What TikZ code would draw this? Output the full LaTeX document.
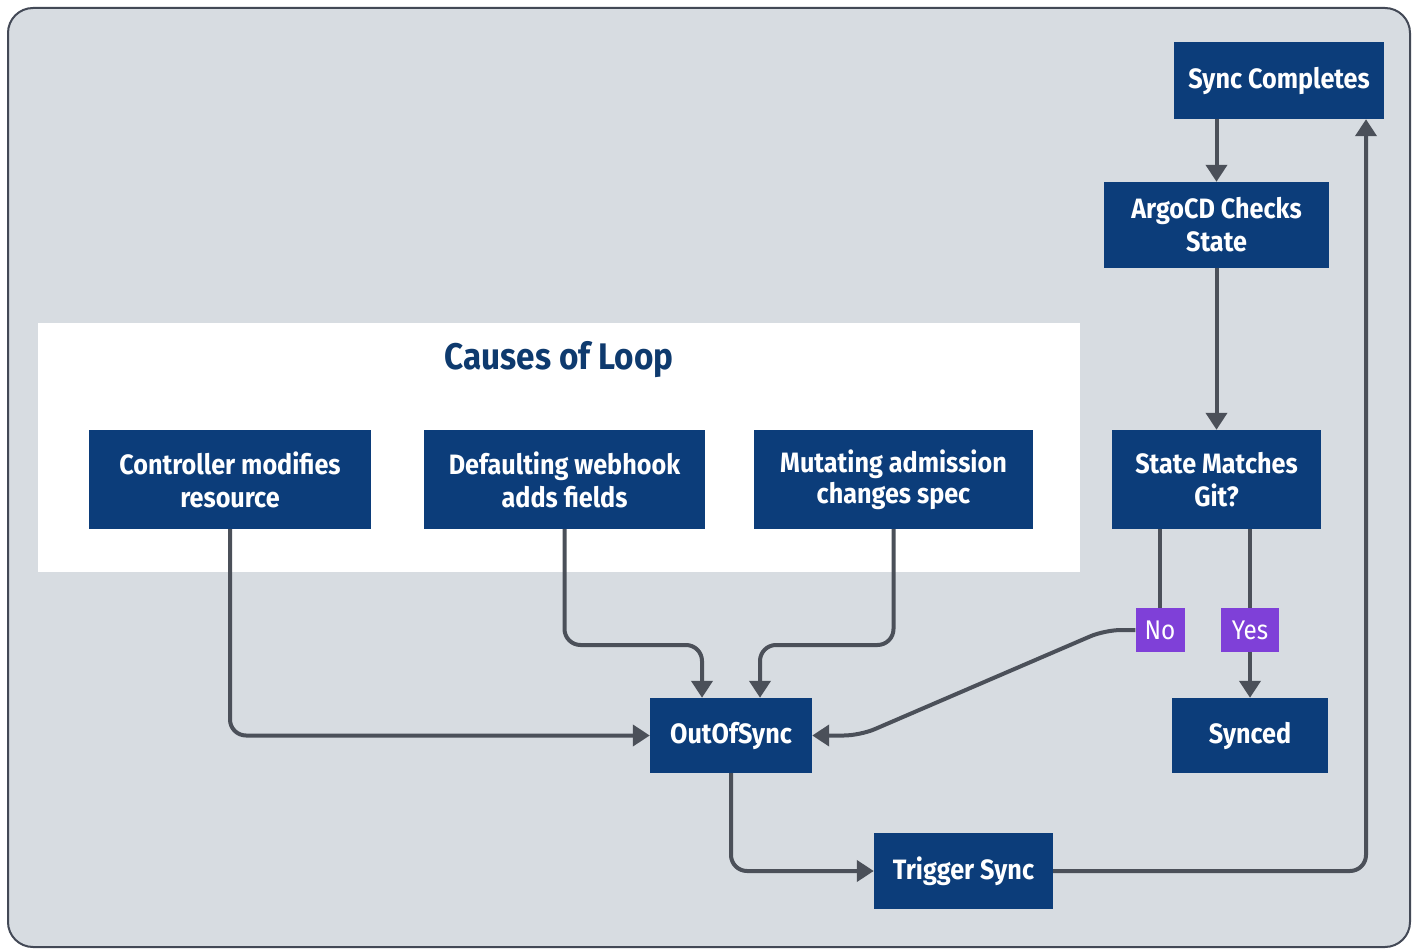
\documentclass[tikz,border=0pt]{standalone}
\usepackage{fontspec}
\setmainfont{Fira Sans}[FakeStretch=0.9]
\usepackage{tikz}
\usetikzlibrary{arrows.meta}
\definecolor{navy}{HTML}{0C3D7A}
\definecolor{titleblue}{HTML}{0E3A6E}
\definecolor{bggray}{HTML}{D7DCE1}
\definecolor{framegray}{HTML}{434956}
\definecolor{linegray}{HTML}{4B5059}
\definecolor{choice}{HTML}{7F40D8}
\tikzstyle{process} = [rectangle, fill=navy, text=white, font=\bfseries\fontsize{28}{33}\selectfont, align=center, inner sep=0pt]
\tikzstyle{answer} = [rectangle, fill=choice, text=white, font=\fontsize{27}{30}\selectfont, inner sep=0pt]
\tikzstyle{link} = [line width=4pt, draw=linegray, rounded corners=16pt]
\tikzstyle{arrow} = [link, -{Triangle[width=21pt,length=17pt]}]

\begin{document}
\begin{tikzpicture}[x=1pt, y=-1pt]
\useasboundingbox (0,0) rectangle (1417,949);
\draw [rounded corners=25pt, fill=bggray, draw=framegray, line width=2pt] (8,8) rectangle (1410,947);
\fill [white] (38,323) rectangle (1080,572);

\node (title) [font=\bfseries\fontsize{37}{42}\selectfont, text=titleblue] at (559,360) {Causes of Loop};
\node (sync) [process, minimum width=210pt, minimum height=77pt] at (1279,80.5) {Sync Completes};
\node (argo) [process, minimum width=225pt, minimum height=86pt] at (1216.5,225) {ArgoCD Checks\\State};
\node (match) [process, minimum width=209pt, minimum height=99pt] at (1216.5,479.5) {State Matches\\Git?};
\node (ctrl) [process, minimum width=282pt, minimum height=99pt] at (230,479.5) {Controller modifies\\resource};
\node (webhook) [process, minimum width=281pt, minimum height=99pt] at (564.5,479.5) {Defaulting webhook\\adds fields};
\node (mutate) [process, minimum width=279pt, minimum height=99pt] at (893.5,479.5) {Mutating admission\\[-2pt]changes spec};
\node (oos) [process, minimum width=162pt, minimum height=75pt] at (731,735.5) {OutOfSync};
\node (synced) [process, minimum width=156pt, minimum height=75pt] at (1250,735.5) {Synced};
\node (trigger) [process, minimum width=179pt, minimum height=76pt] at (963.5,871) {Trigger Sync};
\node (no) [answer, minimum width=49pt, minimum height=44pt] at (1160,630) {No};
\node (yes) [answer, minimum width=58pt, minimum height=44pt] at (1250,630) {Yes};

\draw [arrow] (sync.south -| argo) -- (argo);
\draw [arrow] (argo) -- (match);
\draw [link] (match.south -| no) -- (no);
\draw [link] (match.south -| yes) -- (yes);
\draw [arrow] (yes) -- (synced);
\draw [arrow] (no.west) -- (1105,630) -- (860,735.5) -- (oos.east);
\draw [arrow] (ctrl.south) |- (oos.west);
\draw [arrow] (webhook.south) -- (564.5,645) -- (702,645) -- ([xshift=-29pt]oos.north);
\draw [arrow] (mutate.south) -- (893.5,645) -- (760,645) -- ([xshift=29pt]oos.north);
\draw [arrow] (oos.south) |- (trigger.west);
\draw [arrow] (trigger.east) -| ([xshift=87pt]sync.south);
\end{tikzpicture}
\end{document}
